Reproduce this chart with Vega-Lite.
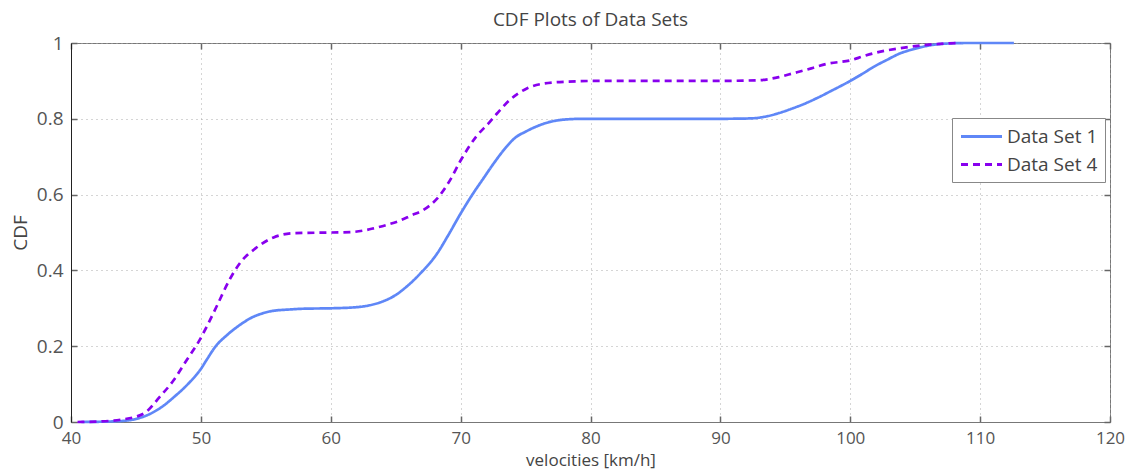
{
  "$schema": "https://vega.github.io/schema/vega-lite/v6.json",
  "width": 1039,
  "height": 379,
  "autosize": {"type": "none"},
  "padding": {"left": 71, "top": 43, "right": 20, "bottom": 51},
  "background": "white",
  "title": {"text": "CDF Plots of Data Sets", "fontSize": 19, "font": "Open Sans", "fontWeight": "normal", "color": "#444", "offset": 4},
  "config": {
    "view": {"stroke": "#777", "strokeWidth": 1},
    "font": "Open Sans",
    "axis": {"labelFont": "Open Sans", "titleFont": "Open Sans", "labelFontSize": 19, "titleFontSize": 19, "labelColor": "#555", "titleColor": "#444", "titleFontWeight": "normal", "gridColor": "#aaa", "gridDash": [1, 4], "gridWidth": 1, "tickColor": "#666", "tickSize": -6, "tickWidth": 1.5, "labelFlush": false}
  },
  "data": {"values": [
    {"v": 40.8, "cdf": 0, "series": "Data Set 1"},
    {"v": 42, "cdf": 0.0005, "series": "Data Set 1"},
    {"v": 44, "cdf": 0.003, "series": "Data Set 1"},
    {"v": 45, "cdf": 0.008, "series": "Data Set 1"},
    {"v": 46, "cdf": 0.02, "series": "Data Set 1"},
    {"v": 47, "cdf": 0.04, "series": "Data Set 1"},
    {"v": 48, "cdf": 0.068, "series": "Data Set 1"},
    {"v": 49, "cdf": 0.1, "series": "Data Set 1"},
    {"v": 50, "cdf": 0.14, "series": "Data Set 1"},
    {"v": 50.5, "cdf": 0.167, "series": "Data Set 1"},
    {"v": 51.1, "cdf": 0.198, "series": "Data Set 1"},
    {"v": 52, "cdf": 0.229, "series": "Data Set 1"},
    {"v": 53, "cdf": 0.256, "series": "Data Set 1"},
    {"v": 54, "cdf": 0.277, "series": "Data Set 1"},
    {"v": 54.6, "cdf": 0.285, "series": "Data Set 1"},
    {"v": 55.5, "cdf": 0.293, "series": "Data Set 1"},
    {"v": 56.9, "cdf": 0.297, "series": "Data Set 1"},
    {"v": 58, "cdf": 0.299, "series": "Data Set 1"},
    {"v": 60, "cdf": 0.3, "series": "Data Set 1"},
    {"v": 62, "cdf": 0.303, "series": "Data Set 1"},
    {"v": 63, "cdf": 0.308, "series": "Data Set 1"},
    {"v": 64, "cdf": 0.318, "series": "Data Set 1"},
    {"v": 65, "cdf": 0.335, "series": "Data Set 1"},
    {"v": 65.8, "cdf": 0.356, "series": "Data Set 1"},
    {"v": 66.9, "cdf": 0.392, "series": "Data Set 1"},
    {"v": 68.2, "cdf": 0.445, "series": "Data Set 1"},
    {"v": 69, "cdf": 0.49, "series": "Data Set 1"},
    {"v": 70, "cdf": 0.55, "series": "Data Set 1"},
    {"v": 71, "cdf": 0.605, "series": "Data Set 1"},
    {"v": 71.7, "cdf": 0.64, "series": "Data Set 1"},
    {"v": 72.5, "cdf": 0.68, "series": "Data Set 1"},
    {"v": 73.5, "cdf": 0.725, "series": "Data Set 1"},
    {"v": 74.2, "cdf": 0.75, "series": "Data Set 1"},
    {"v": 75, "cdf": 0.766, "series": "Data Set 1"},
    {"v": 76, "cdf": 0.782, "series": "Data Set 1"},
    {"v": 76.9, "cdf": 0.792, "series": "Data Set 1"},
    {"v": 78, "cdf": 0.798, "series": "Data Set 1"},
    {"v": 79.5, "cdf": 0.8, "series": "Data Set 1"},
    {"v": 85, "cdf": 0.8, "series": "Data Set 1"},
    {"v": 90, "cdf": 0.8, "series": "Data Set 1"},
    {"v": 92.3, "cdf": 0.801, "series": "Data Set 1"},
    {"v": 93.5, "cdf": 0.806, "series": "Data Set 1"},
    {"v": 94.5, "cdf": 0.815, "series": "Data Set 1"},
    {"v": 95.6, "cdf": 0.828, "series": "Data Set 1"},
    {"v": 96.5, "cdf": 0.84, "series": "Data Set 1"},
    {"v": 97.4, "cdf": 0.854, "series": "Data Set 1"},
    {"v": 98.5, "cdf": 0.873, "series": "Data Set 1"},
    {"v": 100, "cdf": 0.9, "series": "Data Set 1"},
    {"v": 101, "cdf": 0.92, "series": "Data Set 1"},
    {"v": 101.8, "cdf": 0.937, "series": "Data Set 1"},
    {"v": 102.8, "cdf": 0.955, "series": "Data Set 1"},
    {"v": 103.8, "cdf": 0.972, "series": "Data Set 1"},
    {"v": 105, "cdf": 0.985, "series": "Data Set 1"},
    {"v": 106, "cdf": 0.993, "series": "Data Set 1"},
    {"v": 107.7, "cdf": 0.999, "series": "Data Set 1"},
    {"v": 109, "cdf": 1, "series": "Data Set 1"},
    {"v": 112.6, "cdf": 1, "series": "Data Set 1"},
    {"v": 40.5, "cdf": 0, "series": "Data Set 4"},
    {"v": 42, "cdf": 0.001, "series": "Data Set 4"},
    {"v": 43, "cdf": 0.003, "series": "Data Set 4"},
    {"v": 44, "cdf": 0.007, "series": "Data Set 4"},
    {"v": 44.8, "cdf": 0.012, "series": "Data Set 4"},
    {"v": 45.8, "cdf": 0.027, "series": "Data Set 4"},
    {"v": 46.8, "cdf": 0.065, "series": "Data Set 4"},
    {"v": 47.9, "cdf": 0.11, "series": "Data Set 4"},
    {"v": 48.9, "cdf": 0.163, "series": "Data Set 4"},
    {"v": 49.9, "cdf": 0.216, "series": "Data Set 4"},
    {"v": 50.5, "cdf": 0.255, "series": "Data Set 4"},
    {"v": 51.2, "cdf": 0.304, "series": "Data Set 4"},
    {"v": 52.2, "cdf": 0.375, "series": "Data Set 4"},
    {"v": 53, "cdf": 0.419, "series": "Data Set 4"},
    {"v": 54.2, "cdf": 0.458, "series": "Data Set 4"},
    {"v": 55.6, "cdf": 0.487, "series": "Data Set 4"},
    {"v": 57.1, "cdf": 0.498, "series": "Data Set 4"},
    {"v": 60, "cdf": 0.5, "series": "Data Set 4"},
    {"v": 61.5, "cdf": 0.501, "series": "Data Set 4"},
    {"v": 62.5, "cdf": 0.505, "series": "Data Set 4"},
    {"v": 63.3, "cdf": 0.511, "series": "Data Set 4"},
    {"v": 64.3, "cdf": 0.52, "series": "Data Set 4"},
    {"v": 65.3, "cdf": 0.531, "series": "Data Set 4"},
    {"v": 66.2, "cdf": 0.545, "series": "Data Set 4"},
    {"v": 67.1, "cdf": 0.559, "series": "Data Set 4"},
    {"v": 68.2, "cdf": 0.59, "series": "Data Set 4"},
    {"v": 69.2, "cdf": 0.639, "series": "Data Set 4"},
    {"v": 70, "cdf": 0.69, "series": "Data Set 4"},
    {"v": 71.2, "cdf": 0.753, "series": "Data Set 4"},
    {"v": 72.2, "cdf": 0.79, "series": "Data Set 4"},
    {"v": 72.8, "cdf": 0.814, "series": "Data Set 4"},
    {"v": 73.8, "cdf": 0.85, "series": "Data Set 4"},
    {"v": 75.1, "cdf": 0.88, "series": "Data Set 4"},
    {"v": 76.4, "cdf": 0.893, "series": "Data Set 4"},
    {"v": 78.2, "cdf": 0.898, "series": "Data Set 4"},
    {"v": 80.7, "cdf": 0.9, "series": "Data Set 4"},
    {"v": 90, "cdf": 0.9, "series": "Data Set 4"},
    {"v": 93, "cdf": 0.902, "series": "Data Set 4"},
    {"v": 94.5, "cdf": 0.91, "series": "Data Set 4"},
    {"v": 95.6, "cdf": 0.92, "series": "Data Set 4"},
    {"v": 97, "cdf": 0.933, "series": "Data Set 4"},
    {"v": 98.2, "cdf": 0.945, "series": "Data Set 4"},
    {"v": 100.1, "cdf": 0.955, "series": "Data Set 4"},
    {"v": 101, "cdf": 0.965, "series": "Data Set 4"},
    {"v": 101.8, "cdf": 0.973, "series": "Data Set 4"},
    {"v": 103.8, "cdf": 0.986, "series": "Data Set 4"},
    {"v": 105.9, "cdf": 0.995, "series": "Data Set 4"},
    {"v": 107.5, "cdf": 0.999, "series": "Data Set 4"},
    {"v": 108.5, "cdf": 1, "series": "Data Set 4"}
  ]},
  "layer": [
    {
      "mark": {"type": "line", "strokeWidth": 2.7, "interpolate": "monotone"},
      "encoding": {
        "x": {"field": "v", "type": "quantitative", "scale": {"domain": [40, 120], "nice": false, "zero": false},
              "axis": {"values": [40, 50, 60, 70, 80, 90, 100, 110, 120], "title": "velocities [km/h]", "domainColor": "#777", "labelPadding": 14, "labelFontSize": 17, "titlePadding": 6, "titleFontSize": 17}},
        "y": {"field": "cdf", "type": "quantitative", "scale": {"domain": [0, 1], "nice": false},
              "axis": {"values": [0, 0.2, 0.4, 0.6, 0.8, 1], "format": "~g", "title": "CDF", "domainColor": "#222", "labelPadding": 14, "titlePadding": 6}},
        "color": {"field": "series", "type": "nominal", "scale": {"domain": ["Data Set 1", "Data Set 4"], "range": ["#5f87f7", "#8800ee"]},
                  "legend": {"orient": "none", "legendX": 881, "legendY": 75, "title": null, "fillColor": "white", "strokeColor": "#888", "padding": 7, "symbolType": "M-2.05,0H2.05", "symbolSize": 400, "symbolStrokeWidth": 3, "labelFontSize": 19, "labelColor": "#444", "labelFont": "Open Sans", "rowPadding": 6, "labelOffset": 14, "symbolOffset": 11, "labelExpr": "datum.label + '\u2002'"}},
        "strokeDash": {"field": "series", "type": "nominal", "scale": {"domain": ["Data Set 1", "Data Set 4"], "range": [[1, 0], [7, 5]]}}
      }
    },
    {
      "mark": {"type": "line", "opacity": 0},
      "encoding": {
        "x": {"field": "v", "type": "quantitative", "scale": {"domain": [40, 120], "nice": false, "zero": false},
              "axis": {"orient": "top", "values": [40, 50, 60, 70, 80, 90, 100, 110, 120], "labels": false, "grid": false, "title": null, "domain": false}},
        "y": {"field": "cdf", "type": "quantitative", "scale": {"domain": [0, 1], "nice": false},
              "axis": {"orient": "right", "values": [0, 0.2, 0.4, 0.6, 0.8, 1], "labels": false, "grid": false, "title": null, "domain": false}}
      }
    }
  ],
  "resolve": {"axis": {"x": "independent", "y": "independent"}}
}
